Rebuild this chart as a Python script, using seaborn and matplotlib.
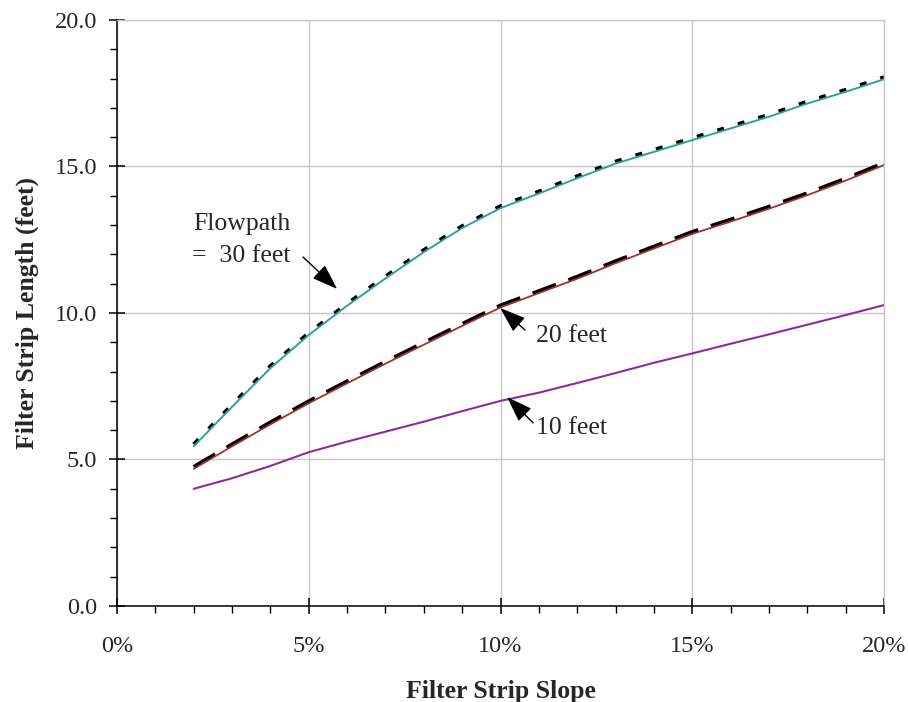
import matplotlib
matplotlib.use("Agg")
import matplotlib.pyplot as plt
import matplotlib.transforms as mtransforms
from matplotlib.ticker import MultipleLocator, FuncFormatter
import seaborn as sns

# filter strip slope (%) and required filter strip length (feet) per flowpath length
slope = [2, 3, 4, 5, 6, 7, 8, 9, 10, 11, 12, 13, 14, 15, 16, 17, 18, 19, 20]
length_30ft = [5.45, 6.80, 8.12, 9.25, 10.25, 11.18, 12.08, 12.90, 13.58,
               14.08, 14.60, 15.10, 15.50, 15.90, 16.30, 16.70, 17.15, 17.55, 17.98]
length_20ft = [4.68, 5.45, 6.20, 6.92, 7.60, 8.27, 8.92, 9.56, 10.19,
               10.68, 11.17, 11.70, 12.20, 12.70, 13.12, 13.56, 14.02, 14.52, 15.05]
length_10ft = [4.00, 4.36, 4.78, 5.25, 5.61, 5.95, 6.29, 6.65, 7.00,
               7.28, 7.61, 7.95, 8.30, 8.62, 8.95, 9.27, 9.60, 9.93, 10.27]

sns.set_style("white")
plt.rcParams['font.family'] = ['Liberation Serif', 'DejaVu Serif']

fig = plt.figure(figsize=(9.08, 7.02), dpi=100)
ax = fig.add_axes([0.1289, 0.1368, 0.8447, 0.8347])

# black overlays sit a touch above the coloured curves
shift_up = mtransforms.offset_copy(ax.transData, fig=fig, x=0, y=2, units='dots')

sns.lineplot(x=slope, y=length_30ft, ax=ax, color='black', lw=2.8,
             linestyle=(0, (1.8, 3.7)))
ax.lines[-1].set_transform(shift_up)
sns.lineplot(x=slope, y=length_30ft, ax=ax, color='#30a099', lw=1.4)

sns.lineplot(x=slope, y=length_20ft, ax=ax, color='black', lw=2.8,
             linestyle=(0, (6.4, 3.4)))
ax.lines[-1].set_transform(shift_up)
sns.lineplot(x=slope, y=length_20ft, ax=ax, color='#a3322c', lw=1.3)

sns.lineplot(x=slope, y=length_10ft, ax=ax, color='#8e2aa0', lw=1.5)

ax.set_xlim(0, 20)
ax.set_ylim(0, 20)
ax.xaxis.set_major_locator(MultipleLocator(5))
ax.xaxis.set_minor_locator(MultipleLocator(1))
ax.yaxis.set_major_locator(MultipleLocator(5))
ax.yaxis.set_minor_locator(MultipleLocator(1))
ax.xaxis.set_major_formatter(FuncFormatter(lambda v, p: f"{v:.0f}%"))
ax.yaxis.set_major_formatter(FuncFormatter(lambda v, p: f"{v:.1f}"))

ax.grid(True, which='major', color='#c8c8c8', lw=1)
ax.set_axisbelow(True)
for side in ['top', 'right']:
    ax.spines[side].set_color('#c8c8c8')
    ax.spines[side].set_linewidth(1)
for side in ['left', 'bottom']:
    ax.spines[side].set_color('black')
    ax.spines[side].set_linewidth(1.1)

ax.tick_params(which='major', direction='inout', length=11, width=1.1,
               color='black', labelsize=17.5, left=True, bottom=True)
ax.tick_params(which='minor', direction='out', length=5, width=1,
               color='black', left=True, bottom=True)
ax.tick_params(axis='x', which='major', pad=16)
ax.tick_params(axis='y', which='major', pad=9)

ax.set_xlabel('Filter Strip Slope', fontsize=18.5, fontweight='bold', labelpad=17)
ax.set_ylabel('Filter Strip Length (feet)', fontsize=18.5, fontweight='bold', labelpad=11)

arrow = dict(arrowstyle='-|>,head_length=0.8,head_width=0.28', color='black',
             lw=1, mutation_scale=20, shrinkA=0, shrinkB=0)

ax.text(2.0, 13.04, 'Flowpath', fontsize=18.5, ha='left', va='center')
ax.text(1.95, 11.95, '=  30 feet', fontsize=18.5, ha='left', va='center')
ax.annotate('', xy=(5.74, 10.82), xytext=(4.85, 11.91), arrowprops=arrow)

ax.text(10.93, 9.22, '20 feet', fontsize=18.5, ha='left', va='center')
ax.annotate('', xy=(9.99, 10.17), xytext=(10.64, 9.42), arrowprops=arrow)

ax.text(10.93, 6.08, '10 feet', fontsize=18.5, ha='left', va='center')
ax.annotate('', xy=(10.17, 7.13), xytext=(10.85, 6.25), arrowprops=arrow)

fig.savefig('out.png', dpi=100)
